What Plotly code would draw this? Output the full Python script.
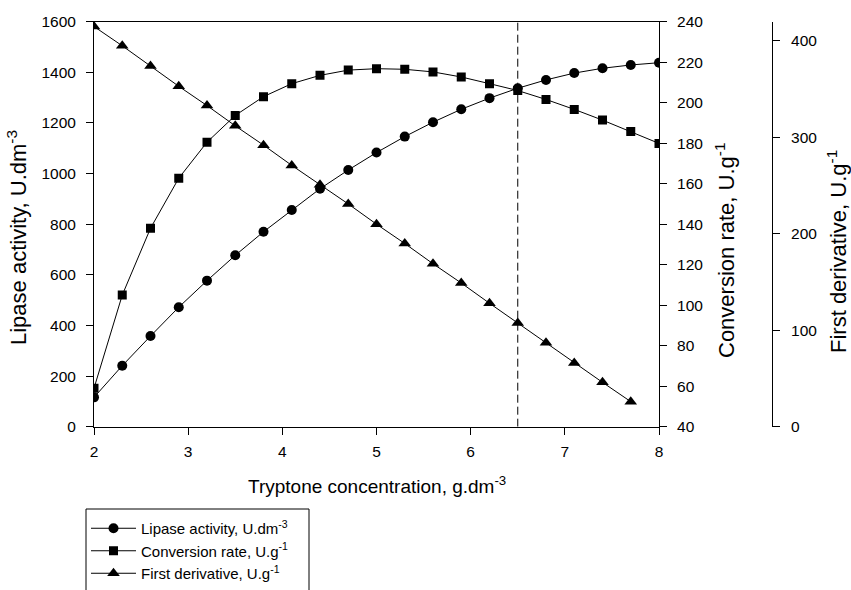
import plotly.graph_objects as go

# Data
tryptone = [2.0, 2.3, 2.6, 2.9, 3.2, 3.5, 3.8, 4.1, 4.4, 4.7, 5.0,
            5.3, 5.6, 5.9, 6.2, 6.5, 6.8, 7.1, 7.4, 7.7, 8.0]
lipase_activity = [116, 241, 358, 472, 577, 677, 770, 856, 940, 1014, 1083,
                   1146, 1203, 1254, 1298, 1337, 1370, 1397, 1416, 1429, 1438]
conversion_rate = [59, 105, 138, 162.7, 180.5, 193.7, 203, 209.4, 213.5, 216.1, 216.8,
                   216.5, 215.2, 212.7, 209.4, 206, 201.6, 196.7, 191.4, 185.8, 179.9]
tryptone_deriv = [2.0, 2.3, 2.6, 2.9, 3.2, 3.5, 3.8, 4.1, 4.4, 4.7, 5.0,
                  5.3, 5.6, 5.9, 6.2, 6.5, 6.8, 7.1, 7.4, 7.7]
first_derivative = [415, 395, 374, 353, 333, 312, 292, 271, 251, 231, 210,
                    190, 169, 149, 128, 107.5, 87, 66, 46, 26]
optimum_x = 6.5

x_ticks = [2, 3, 4, 5, 6, 7, 8]
lipase_ticks = [0, 200, 400, 600, 800, 1000, 1200, 1400, 1600]
conv_ticks = [40, 60, 80, 100, 120, 140, 160, 180, 200, 220, 240]
deriv_ticks = [0, 100, 200, 300, 400]

W, H = 851, 590
FONT = "Liberation Sans, Arial, Helvetica, sans-serif"

def px(x):
    return x / W

def py(y):
    return 1 - y / H

x_dom = [px(94), px(659)]
y_dom = [py(426.7), py(21.7)]

fig = go.Figure()
line = dict(color="black", width=1)
fig.add_trace(go.Scatter(x=tryptone, y=lipase_activity, mode="lines+markers",
                         name="Lipase activity, U.dm<sup>-3</sup>",
                         line=line, marker=dict(symbol="circle", size=10, color="black"),
                         yaxis="y"))
fig.add_trace(go.Scatter(x=tryptone, y=conversion_rate, mode="lines+markers",
                         name="Conversion rate, U.g<sup>-1</sup>",
                         line=line, marker=dict(symbol="square", size=9, color="black"),
                         yaxis="y2"))
fig.add_trace(go.Scatter(x=tryptone_deriv, y=first_derivative, mode="lines+markers",
                         name="First derivative, U.g<sup>-1</sup>",
                         line=line, marker=dict(symbol="triangle-up", size=11, color="black"),
                         yaxis="y3"))

fig.add_shape(type="line", xref="x", yref="y", x0=optimum_x, x1=optimum_x,
              y0=0, y1=1600, line=dict(color="black", width=1, dash="8px,4px"))

# legend frame (runs past the bottom edge, as in the reference)
fig.add_shape(type="rect", xref="paper", yref="paper",
              x0=px(86), x1=px(309), y0=py(600), y1=py(509),
              line=dict(color="black", width=1), fillcolor="rgba(0,0,0,0)")

tickfont = dict(family=FONT, size=15.5, color="black")
axis_common = dict(showgrid=False, zeroline=False, showline=True, linecolor="black",
                   linewidth=1, ticks="outside", ticklen=7, tickcolor="black",
                   tickwidth=1, tickfont=tickfont, automargin=False)

fig.update_layout(
    width=W, height=H,
    margin=dict(l=0, r=0, t=0, b=0),
    paper_bgcolor="white", plot_bgcolor="white",
    font=dict(family=FONT, color="black"),
    xaxis=dict(domain=x_dom, range=[2, 8], tickvals=x_ticks, mirror=True,
               ticklabelstandoff=4, **axis_common),
    yaxis=dict(domain=y_dom, range=[0, 1600], tickvals=lipase_ticks, mirror=True,
               ticklabelstandoff=7, **axis_common),
    yaxis2=dict(range=[40, 240], tickvals=conv_ticks, overlaying="y", side="right",
                anchor="x", ticklabelstandoff=7, **axis_common),
    yaxis3=dict(range=[0, 420], tickvals=deriv_ticks, overlaying="y", side="right",
                anchor="free", position=px(772), ticklabelstandoff=8, **axis_common),
    showlegend=True,
    legend=dict(x=px(86), y=py(512), xanchor="left", yanchor="top",
                borderwidth=0, bgcolor="rgba(0,0,0,0)",
                itemwidth=45,
                font=dict(family=FONT, size=15, color="black")),
)

fig.add_annotation(text="Tryptone concentration, g.dm<sup>-3</sup>", x=px(377), y=py(485),
                   xref="paper", yref="paper", xanchor="center", yanchor="middle",
                   showarrow=False, font=dict(family=FONT, size=19, color="black"))
ytitle_font = dict(family=FONT, size=22, color="black")
fig.add_annotation(text="Lipase activity, U.dm<sup>-3</sup>", x=px(17), y=py(238),
                   xref="paper", yref="paper", xanchor="center", yanchor="middle",
                   showarrow=False, font=ytitle_font, textangle=-90)
fig.add_annotation(text="Conversion rate, U.g<sup>-1</sup>", x=px(725), y=py(251),
                   xref="paper", yref="paper", xanchor="center", yanchor="middle",
                   showarrow=False, font=ytitle_font, textangle=-90)
fig.add_annotation(text="First derivative, U.g<sup>-1</sup>", x=px(837), y=py(252),
                   xref="paper", yref="paper", xanchor="center", yanchor="middle",
                   showarrow=False, font=ytitle_font, textangle=-90)

fig.write_html("out.html")
